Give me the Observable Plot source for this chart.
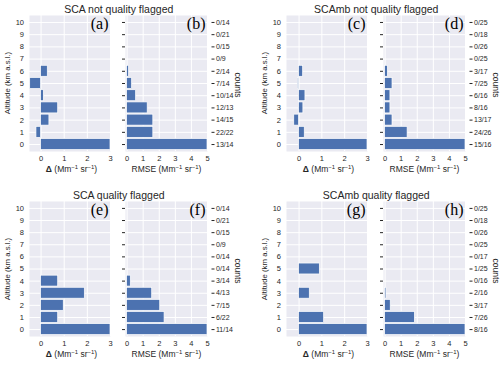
<!DOCTYPE html>
<html>
<head>
<meta charset="utf-8">
<script src="https://cdn.jsdelivr.net/npm/d3@7"></script>
<script src="https://cdn.jsdelivr.net/npm/@observablehq/plot@0.6"></script>
<style>
  html, body { margin: 0; padding: 0; background: white; }
  #fig { position: relative; width: 500px; height: 365px; overflow: hidden;
         font-family: "Liberation Sans", Arial, sans-serif; color: #262626; }
  .lbl { position: absolute; white-space: nowrap; transform-origin: center center; line-height: 1; }
  .lbl sup { font-size: 0.7em; vertical-align: 0.45em; line-height: 0; }
  #fig svg { position: absolute; overflow: visible; }
</style>
</head>
<body>
<div id="fig"></div>
<script>
// ---------- data ----------
const altitudes = [0, 1, 2, 3, 4, 5, 6, 7, 8, 9, 10];
const deltaTicks = [0, 1, 2, 3];
const rmseTicks = [0, 1, 2, 3, 4, 5];

// SCA not quality flagged
const deltaSCA = [3.0, -0.2, 0.36, 0.74, 0.12, -0.47, 0.29, null, null, null, null];
const rmseSCA = [5.0, 1.63, 1.63, 1.28, 0.56, 0.31, 0.12, null, null, null, null];
const countsSCA = ["13/14", "22/22", "14/15", "12/13", "10/14", "7/14", "2/14", "0/9", "0/15", "0/21", "0/14"];

// SCAmb not quality flagged
const deltaSCAmb = [3.0, 0.25, -0.21, 0.19, 0.28, -0.05, 0.18, null, null, null, null];
const rmseSCAmb = [5.0, 1.4, 0.46, 0.33, 0.33, 0.46, 0.17, null, null, null, null];
const countsSCAmb = ["15/16", "24/26", "13/17", "8/16", "6/16", "7/25", "3/17", "0/25", "0/26", "0/18", "0/25"];

// SCA quality flagged
const deltaSCAqf = [3.0, 0.74, 0.98, 1.89, 0.74, null, null, null, null, null, null];
const rmseSCAqf = [5.0, 2.33, 2.06, 1.56, 0.23, null, null, null, null, null, null];
const countsSCAqf = ["11/14", "6/22", "7/15", "4/13", "3/14", "0/14", "0/14", "0/9", "0/15", "0/21", "0/14"];

// SCAmb quality flagged
const deltaSCAmbqf = [3.0, 1.1, null, 0.47, null, 0.91, null, null, null, null, null];
const rmseSCAmbqf = [5.0, 1.85, 0.35, 0.08, null, null, null, null, null, null, null];
const countsSCAmbqf = ["8/16", "7/26", "3/17", "2/16", "0/16", "1/25", "0/17", "0/25", "0/26", "0/18", "0/25"];

const titles = ["SCA not quality flagged", "SCAmb not quality flagged", "SCA quality flagged", "SCAmb quality flagged"];
const letters = ["(a)", "(b)", "(c)", "(d)", "(e)", "(f)", "(g)", "(h)"];

// ---------- style / layout ----------
const BG = "#EAEAF2";
const BAR = "#4C72B0";
const TXT = "#262626";
const yDomain = [-0.57, 10.57];
const rows = [{y0: 15, y1: 151}, {y0: 201, y1: 336}];
const cols = [
  {x0: 29, x1: 110, side: "left", xDomain: [-0.5, 3], ticks: deltaTicks},
  {x0: 124.5, x1: 206.5, side: "right", xDomain: [-0.1, 5], ticks: rmseTicks},
  {x0: 286, x1: 367, side: "left", xDomain: [-0.55, 3], ticks: deltaTicks},
  {x0: 382.5, x1: 464.5, side: "right", xDomain: [-0.1, 5], ticks: rmseTicks}
];

const fig = document.getElementById("fig");

function addLabel(html, x, y, size, rotate = 0, extra = {}) {
  const d = document.createElement("div");
  d.className = "lbl";
  d.innerHTML = html;
  d.style.left = x + "px";
  d.style.top = y + "px";
  d.style.fontSize = size + "px";
  d.style.transform = `translate(-50%, -50%) rotate(${rotate}deg)`;
  Object.assign(d.style, extra);
  fig.appendChild(d);
}

function panel(values, counts, col, row, letter) {
  const data = altitudes.map((a, i) => ({alt: a, v: values[i]})).filter(d => d.v != null);
  const left = col.side === "left";
  const ml = left ? 24 : 8, mr = left ? 4 : 44, mt = 4, mb = 16;
  const w = col.x1 - col.x0, h = row.y1 - row.y0;
  const marks = [
    Plot.frame({fill: BG, stroke: null}),
    Plot.gridX({ticks: col.ticks, stroke: "white", strokeOpacity: 1, strokeWidth: 1}),
    Plot.gridY({ticks: altitudes, stroke: "white", strokeOpacity: 1, strokeWidth: 1}),
    Plot.rect(data, {
      x1: 0, x2: "v",
      y1: d => d.alt - 0.45, y2: d => d.alt + 0.45,
      fill: BAR, stroke: "white", strokeWidth: 0.7, clip: true
    }),
    Plot.axisX({ticks: col.ticks, tickSize: 0, tickPadding: 4.5, fontSize: 7.5, label: null, tickFormat: d => String(d)}),
    Plot.text([letter], {
      text: d => d, frameAnchor: "top-right", dx: -2, dy: 2, lineAnchor: "top",
      fontFamily: "Liberation Serif, Times New Roman, serif", fontSize: 16, fill: "black"
    })
  ];
  if (left) {
    marks.push(Plot.axisY({ticks: altitudes, tickSize: 0, tickPadding: 5.5, fontSize: 7.5, label: null}));
  } else {
    marks.push(Plot.axisY({anchor: "left", ticks: altitudes, tickSize: 3, tickFormat: () => "", label: null}));
    marks.push(Plot.axisY({anchor: "right", ticks: altitudes, tickSize: 3, tickPadding: 2, dx: 3.5,
      tickFormat: d => counts[d], fontSize: 7, label: null}));
  }
  const svg = Plot.plot({
    width: w + ml + mr, height: h + mt + mb,
    marginLeft: ml, marginRight: mr, marginTop: mt, marginBottom: mb,
    x: {domain: col.xDomain},
    y: {domain: yDomain},
    style: {background: "transparent", color: TXT, fontFamily: "Liberation Sans, Arial, sans-serif", fontSize: "7.5px"},
    marks
  });
  svg.style.left = (col.x0 - ml) + "px";
  svg.style.top = (row.y0 - mt) + "px";
  fig.appendChild(svg);
}

const groups = [
  [deltaSCA, rmseSCA, countsSCA],
  [deltaSCAmb, rmseSCAmb, countsSCAmb],
  [deltaSCAqf, rmseSCAqf, countsSCAqf],
  [deltaSCAmbqf, rmseSCAmbqf, countsSCAmbqf]
];

groups.forEach((g, gi) => {
  const row = rows[Math.floor(gi / 2)];
  const cL = cols[(gi % 2) * 2], cR = cols[(gi % 2) * 2 + 1];
  panel(g[0], g[2], cL, row, letters[gi * 2]);
  panel(g[1], g[2], cR, row, letters[gi * 2 + 1]);
  const midY = (row.y0 + row.y1) / 2;
  // title
  addLabel(titles[gi], (cL.x0 + cR.x1) / 2 + 1, row.y0 - 6, 10.5);
  // axis titles
  addLabel("<b>Δ</b> (Mm<sup>−1</sup> sr<sup>−1</sup>)", (cL.x0 + cL.x1) / 2 + 2, row.y1 + 18, 8.5);
  addLabel("RMSE (Mm<sup>−1</sup> sr<sup>−1</sup>)", (cR.x0 + cR.x1) / 2 + 1, row.y1 + 18, 8.5);
  addLabel("Altitude (km a.s.l.)", cL.x0 - 21, midY, 7.8, -90);
  addLabel("counts", cR.x1 + 31, midY + 2, 8.5, 90);
});
</script>
</body>
</html>
